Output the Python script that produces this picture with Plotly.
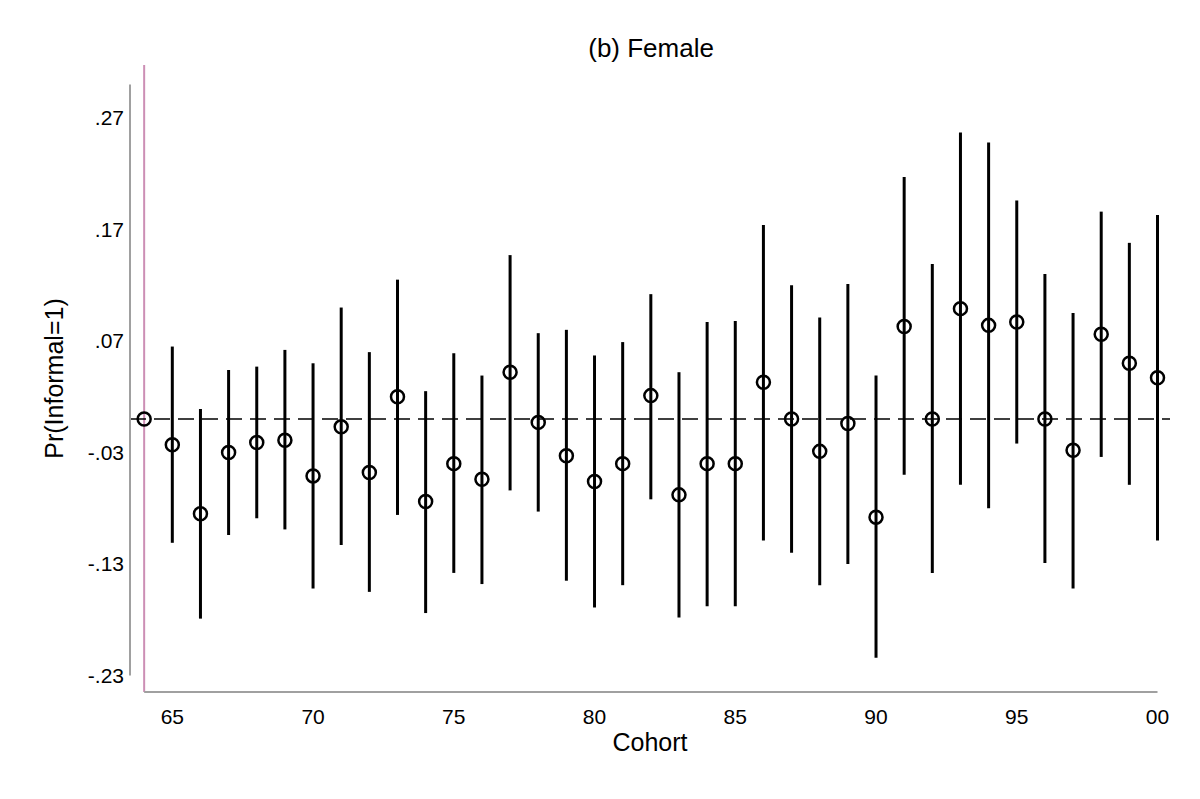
import plotly.graph_objects as go

cohorts = list(range(64, 101))
tick_vals = [65, 70, 75, 80, 85, 90, 95, 100]
tick_text = ["65", "70", "75", "80", "85", "90", "95", "00"]
y_tick_vals = [0.27, 0.17, 0.07, -0.03, -0.13, -0.23]
y_tick_text = [".27", ".17", ".07", "-.03", "-.13", "-.23"]

estimate = [0.0, -0.023, -0.085, -0.030, -0.021, -0.019, -0.051, -0.007, -0.048, 0.020,
            -0.074, -0.040, -0.054, 0.042, -0.003, -0.033, -0.056, -0.040, 0.021, -0.068,
            -0.040, -0.040, 0.033, 0.0, -0.029, -0.004, -0.088, 0.083, 0.0, 0.099,
            0.084, 0.087, 0.0, -0.028, 0.076, 0.050, 0.037]
ci_upper = [0.0, 0.065, 0.009, 0.044, 0.047, 0.062, 0.050, 0.100, 0.060, 0.125,
            0.025, 0.059, 0.039, 0.147, 0.077, 0.080, 0.057, 0.069, 0.112, 0.042,
            0.087, 0.088, 0.174, 0.120, 0.091, 0.121, 0.039, 0.217, 0.139, 0.257,
            0.248, 0.196, 0.130, 0.095, 0.186, 0.158, 0.183]
ci_lower = [0.0, -0.111, -0.179, -0.104, -0.089, -0.099, -0.152, -0.113, -0.155, -0.086,
            -0.174, -0.138, -0.148, -0.064, -0.083, -0.145, -0.169, -0.149, -0.072, -0.178,
            -0.168, -0.168, -0.109, -0.120, -0.149, -0.130, -0.214, -0.050, -0.138, -0.059,
            -0.080, -0.022, -0.129, -0.152, -0.034, -0.059, -0.109]

err_plus = [u - e for u, e in zip(ci_upper, estimate)]
err_minus = [e - l for e, l in zip(estimate, ci_lower)]

fig = go.Figure()
fig.add_hline(y=0, line=dict(color="black", width=1.5, dash="16px,8px"))
fig.add_trace(go.Scatter(
    x=cohorts, y=estimate, mode="markers",
    marker=dict(symbol="circle-open", size=13, color="black", line=dict(width=2.5, color="black")),
    error_y=dict(type="data", symmetric=False, array=err_plus, arrayminus=err_minus,
                 color="black", thickness=3, width=0),
    showlegend=False,
))

# vertical reference line at first cohort
fig.add_shape(type="line", xref="x", yref="paper", x0=64, x1=64, y0=0, y1=1,
              line=dict(color="#cc8fb5", width=2), layer="below")
# axis lines
fig.add_shape(type="line", xref="paper", yref="y", x0=0, x1=0, y0=-0.23, y1=0.30,
              line=dict(color="#a0a0a0", width=2))
fig.add_shape(type="line", xref="x", yref="paper", x0=64, x1=100, y0=0, y1=0,
              line=dict(color="#a0a0a0", width=2))

fig.update_layout(
    width=1192, height=791,
    margin=dict(l=122, r=30, t=57, b=107),
    plot_bgcolor="white", paper_bgcolor="white",
    font=dict(family="Liberation Sans, Arial, sans-serif", color="black", size=21),
    title=dict(text="(b) Female", x=0.5395, xanchor="center", y=0.9495, yanchor="middle",
               font=dict(size=26)),
)
fig.update_xaxes(range=[63.497, 100.444], tickvals=tick_vals, ticktext=tick_text,
                 showgrid=False, zeroline=False, showline=False, ticks="",
                 ticklabelstandoff=10, title=dict(text="Cohort", standoff=6),
                 tickfont=dict(size=21))
fig.update_yaxes(range=[-0.2448, 0.3175], tickvals=y_tick_vals, ticktext=y_tick_text,
                 showgrid=False, zeroline=False, showline=False, ticks="",
                 ticklabelstandoff=5, title=dict(text="Pr(Informal=1)", standoff=17),
                 tickfont=dict(size=21))

fig.write_html("out.html")
